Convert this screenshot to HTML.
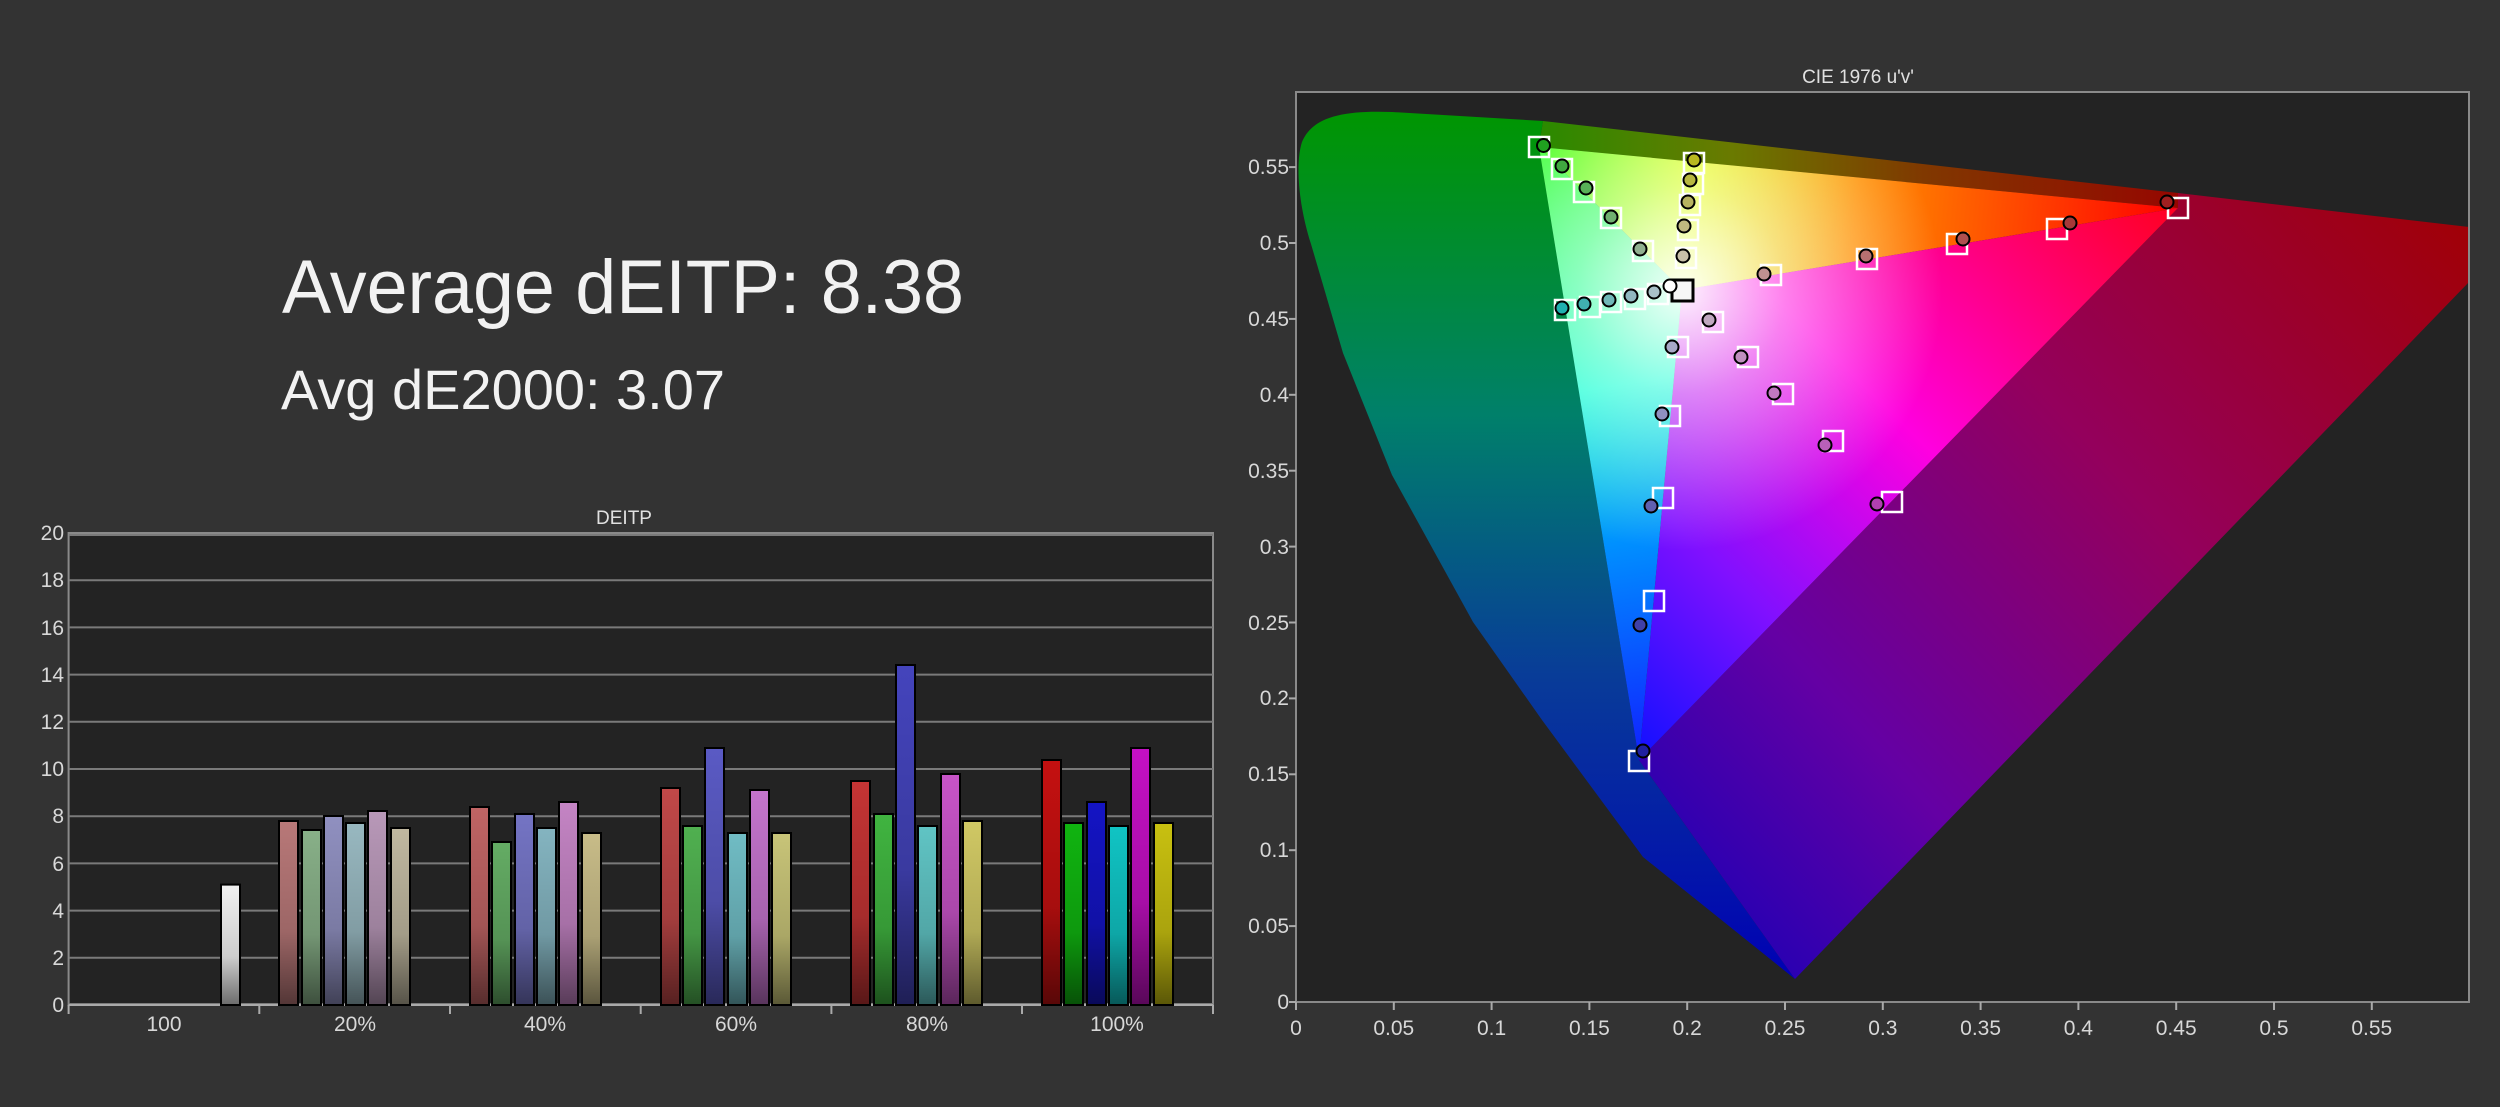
<!DOCTYPE html>
<html><head><meta charset="utf-8"><style>
html,body{margin:0;padding:0;background:#333333;}
svg{display:block}
</style></head><body>
<svg width="2500" height="1107" viewBox="0 0 2500 1107" xmlns="http://www.w3.org/2000/svg" font-family="Liberation Sans, sans-serif">
<defs>
<linearGradient id="shade" x1="0" y1="0" x2="0" y2="1">
<stop offset="0" stop-color="#000" stop-opacity="0"/>
<stop offset="0.6" stop-color="#000" stop-opacity="0.15"/>
<stop offset="1" stop-color="#000" stop-opacity="0.55"/>
</linearGradient>
<linearGradient id="gl" gradientUnits="userSpaceOnUse" x1="0" y1="110" x2="0" y2="980">
<stop offset="0" stop-color="#009600"/>
<stop offset="0.35" stop-color="#00806a"/>
<stop offset="0.65" stop-color="#083c98"/>
<stop offset="1" stop-color="#0000b4"/>
</linearGradient>
<linearGradient id="gr" gradientUnits="userSpaceOnUse" x1="2469" y1="240" x2="1700" y2="940">
<stop offset="0" stop-color="#a00008"/>
<stop offset="0.4" stop-color="#94005c"/>
<stop offset="0.75" stop-color="#6400a4"/>
<stop offset="1" stop-color="#2000b4"/>
</linearGradient>
<linearGradient id="gt" gradientUnits="userSpaceOnUse" x1="1540" y1="0" x2="2180" y2="0">
<stop offset="0" stop-color="#2a8a00"/>
<stop offset="0.3" stop-color="#6a7a00"/>
<stop offset="0.6" stop-color="#803800"/>
<stop offset="1" stop-color="#960600"/>
</linearGradient>
<linearGradient id="tGR" gradientUnits="userSpaceOnUse" x1="1539" y1="147" x2="2178" y2="208">
<stop offset="0" stop-color="#30ff10"/>
<stop offset="0.25" stop-color="#e0ff00"/>
<stop offset="0.5" stop-color="#ff9000"/>
<stop offset="1" stop-color="#ff0000"/>
</linearGradient>
<linearGradient id="tRB" gradientUnits="userSpaceOnUse" x1="2178" y1="208" x2="1639" y2="760">
<stop offset="0" stop-color="#ff0020"/>
<stop offset="0.45" stop-color="#ff00e0"/>
<stop offset="0.75" stop-color="#8010ff"/>
<stop offset="1" stop-color="#1010ff"/>
</linearGradient>
<linearGradient id="tBG" gradientUnits="userSpaceOnUse" x1="1639" y1="760" x2="1539" y2="147">
<stop offset="0" stop-color="#1020ff"/>
<stop offset="0.35" stop-color="#0090ff"/>
<stop offset="0.6" stop-color="#00ffd0"/>
<stop offset="1" stop-color="#30ff20"/>
</linearGradient>
<radialGradient id="wh" gradientUnits="userSpaceOnUse" cx="1682" cy="290" r="260">
<stop offset="0" stop-color="#fff" stop-opacity="0.95"/>
<stop offset="0.4" stop-color="#fff" stop-opacity="0.5"/>
<stop offset="1" stop-color="#fff" stop-opacity="0"/>
</radialGradient>
<clipPath id="cf"><rect x="1296" y="92" width="1173" height="910"/></clipPath>
</defs>

<rect width="2500" height="1107" fill="#333333"/>

<text x="282" y="313" font-size="76" fill="#f2f2f2" textLength="682" lengthAdjust="spacingAndGlyphs">Average dEITP: 8.38</text>
<text x="281" y="409" font-size="56" fill="#f2f2f2" textLength="444" lengthAdjust="spacingAndGlyphs">Avg dE2000: 3.07</text>

<text x="624" y="524" font-size="19" fill="#e0e0e0" text-anchor="middle">DEITP</text>
<rect x="68.6" y="533" width="1144.4" height="472" fill="#232323" stroke="#8a8a8a" stroke-width="2"/>
<g stroke="#7a7a7a" stroke-width="2">
<line x1="69" x2="1213" y1="957.8" y2="957.8"/><line x1="69" x2="1213" y1="910.6" y2="910.6"/>
<line x1="69" x2="1213" y1="863.4" y2="863.4"/><line x1="69" x2="1213" y1="816.2" y2="816.2"/>
<line x1="69" x2="1213" y1="769" y2="769"/><line x1="69" x2="1213" y1="721.8" y2="721.8"/>
<line x1="69" x2="1213" y1="674.6" y2="674.6"/><line x1="69" x2="1213" y1="627.4" y2="627.4"/>
<line x1="69" x2="1213" y1="580.2" y2="580.2"/><line x1="69" x2="1213" y1="535" y2="535"/>
<line x1="69" x2="1213" y1="1004" y2="1004"/>
</g>
<g stroke="#aaa" stroke-width="2">
<line x1="68.6" x2="1213" y1="1005" y2="1005"/>
<line x1="68.6" x2="68.6" y1="1005" y2="1014"/><line x1="259.3" x2="259.3" y1="1005" y2="1014"/>
<line x1="450" x2="450" y1="1005" y2="1014"/><line x1="640.7" x2="640.7" y1="1005" y2="1014"/>
<line x1="831.4" x2="831.4" y1="1005" y2="1014"/><line x1="1022" x2="1022" y1="1005" y2="1014"/>
<line x1="1213" x2="1213" y1="1005" y2="1014"/>
</g>
<g font-size="21" fill="#d8d8d8" text-anchor="end">
<text x="64" y="1012">0</text><text x="64" y="965">2</text><text x="64" y="918">4</text>
<text x="64" y="871">6</text><text x="64" y="823">8</text><text x="64" y="776">10</text>
<text x="64" y="729">12</text><text x="64" y="682">14</text><text x="64" y="635">16</text>
<text x="64" y="587">18</text><text x="64" y="540">20</text>
</g>
<g font-size="21" fill="#d8d8d8" text-anchor="middle">
<text x="164" y="1031">100</text><text x="355" y="1031">20%</text><text x="545" y="1031">40%</text>
<text x="736" y="1031">60%</text><text x="927" y="1031">80%</text><text x="1117" y="1031">100%</text>
</g>
<g stroke="#000" stroke-width="2">
<rect x="221" y="884.6" width="19" height="120.4" fill="#f0f0f0"/>
<rect x="279" y="821" width="19" height="184" fill="#b87878"/>
<rect x="302" y="830" width="19" height="175" fill="#88b088"/>
<rect x="324" y="816" width="19" height="189" fill="#9090c0"/>
<rect x="346" y="823" width="19" height="182" fill="#98b8c0"/>
<rect x="368" y="811" width="19" height="194" fill="#b898b8"/>
<rect x="391" y="828" width="19" height="177" fill="#c0b8a0"/>
<rect x="470" y="807" width="19" height="198" fill="#c06464"/>
<rect x="492" y="842" width="19" height="163" fill="#64ac64"/>
<rect x="515" y="814" width="19" height="191" fill="#7474c4"/>
<rect x="537" y="828" width="19" height="177" fill="#84b4c0"/>
<rect x="559" y="802" width="19" height="203" fill="#c484c4"/>
<rect x="582" y="833" width="19" height="172" fill="#c8bc88"/>
<rect x="661" y="788" width="19" height="217" fill="#c04848"/>
<rect x="683" y="826" width="19" height="179" fill="#50b050"/>
<rect x="705" y="748" width="19" height="257" fill="#5a5ac4"/>
<rect x="728" y="833" width="19" height="172" fill="#70bcc4"/>
<rect x="750" y="790" width="19" height="215" fill="#c474cc"/>
<rect x="772" y="833" width="19" height="172" fill="#c8c478"/>
<rect x="851" y="781" width="19" height="224" fill="#c43434"/>
<rect x="874" y="814" width="19" height="191" fill="#40b440"/>
<rect x="896" y="665" width="19" height="340" fill="#4444bc"/>
<rect x="918" y="826" width="19" height="179" fill="#60c4c4"/>
<rect x="941" y="774" width="19" height="231" fill="#c854c8"/>
<rect x="963" y="821" width="19" height="184" fill="#d0c864"/>
<rect x="1042" y="760" width="19" height="245" fill="#c41010"/>
<rect x="1064" y="823" width="19" height="182" fill="#10b410"/>
<rect x="1087" y="802" width="19" height="203" fill="#1414c4"/>
<rect x="1109" y="826" width="19" height="179" fill="#10c4c4"/>
<rect x="1131" y="748" width="19" height="257" fill="#c410c4"/>
<rect x="1154" y="823" width="19" height="182" fill="#c8c010"/>
</g>
<g fill="url(#shade)">
<rect x="221" y="884.6" width="19" height="120.4"/>
<rect x="279" y="821" width="19" height="184"/><rect x="302" y="830" width="19" height="175"/>
<rect x="324" y="816" width="19" height="189"/><rect x="346" y="823" width="19" height="182"/>
<rect x="368" y="811" width="19" height="194"/><rect x="391" y="828" width="19" height="177"/>
<rect x="470" y="807" width="19" height="198"/><rect x="492" y="842" width="19" height="163"/>
<rect x="515" y="814" width="19" height="191"/><rect x="537" y="828" width="19" height="177"/>
<rect x="559" y="802" width="19" height="203"/><rect x="582" y="833" width="19" height="172"/>
<rect x="661" y="788" width="19" height="217"/><rect x="683" y="826" width="19" height="179"/>
<rect x="705" y="748" width="19" height="257"/><rect x="728" y="833" width="19" height="172"/>
<rect x="750" y="790" width="19" height="215"/><rect x="772" y="833" width="19" height="172"/>
<rect x="851" y="781" width="19" height="224"/><rect x="874" y="814" width="19" height="191"/>
<rect x="896" y="665" width="19" height="340"/><rect x="918" y="826" width="19" height="179"/>
<rect x="941" y="774" width="19" height="231"/><rect x="963" y="821" width="19" height="184"/>
<rect x="1042" y="760" width="19" height="245"/><rect x="1064" y="823" width="19" height="182"/>
<rect x="1087" y="802" width="19" height="203"/><rect x="1109" y="826" width="19" height="179"/>
<rect x="1131" y="748" width="19" height="257"/><rect x="1154" y="823" width="19" height="182"/>
</g>

<text x="1858" y="83" font-size="19" fill="#e0e0e0" text-anchor="middle">CIE 1976 u'v'</text>
<rect x="1296" y="92" width="1173" height="910" fill="#232323"/>
<g clip-path="url(#cf)">
<path fill="url(#gl)" d="M1539,147 L1543,121 L1392,112 C1340,110 1312,118 1302,142 C1296,160 1297,200 1311,244 L1343,353 L1392,475 L1473,622 L1542,720 L1643,857 L1795,979 L1639,760 Z"/>
<polygon fill="url(#gr)" points="2178,208 2178,193 2469,227 2469,282 1795,979 1639,760"/>
<polygon fill="url(#gt)" points="1539,147 1543,121 2178,193 2178,208"/>
<polygon fill="url(#tGR)" points="1682,290 1539,147 2178,208"/>
<polygon fill="url(#tRB)" points="1682,290 2178,208 1639,760"/>
<polygon fill="url(#tBG)" points="1682,290 1639,760 1539,147"/>
<polygon fill="url(#wh)" points="1539,147 2178,208 1639,760"/>
</g>
<rect x="1296" y="92" width="1173" height="910" fill="none" stroke="#8a8a8a" stroke-width="2"/>
<g stroke="#aaa" stroke-width="2">
<line x1="1296" x2="1296" y1="1002" y2="1010"/><line x1="1393.8" x2="1393.8" y1="1002" y2="1010"/>
<line x1="1491.6" x2="1491.6" y1="1002" y2="1010"/><line x1="1589.4" x2="1589.4" y1="1002" y2="1010"/>
<line x1="1687.2" x2="1687.2" y1="1002" y2="1010"/><line x1="1785" x2="1785" y1="1002" y2="1010"/>
<line x1="1882.8" x2="1882.8" y1="1002" y2="1010"/><line x1="1980.6" x2="1980.6" y1="1002" y2="1010"/>
<line x1="2078.4" x2="2078.4" y1="1002" y2="1010"/><line x1="2176.2" x2="2176.2" y1="1002" y2="1010"/>
<line x1="2274" x2="2274" y1="1002" y2="1010"/><line x1="2371.8" x2="2371.8" y1="1002" y2="1010"/>
<line x1="1289" x2="1296" y1="1002" y2="1002"/><line x1="1289" x2="1296" y1="926.1" y2="926.1"/>
<line x1="1289" x2="1296" y1="850.2" y2="850.2"/><line x1="1289" x2="1296" y1="774.3" y2="774.3"/>
<line x1="1289" x2="1296" y1="698.4" y2="698.4"/><line x1="1289" x2="1296" y1="622.5" y2="622.5"/>
<line x1="1289" x2="1296" y1="546.6" y2="546.6"/><line x1="1289" x2="1296" y1="470.7" y2="470.7"/>
<line x1="1289" x2="1296" y1="394.8" y2="394.8"/><line x1="1289" x2="1296" y1="318.9" y2="318.9"/>
<line x1="1289" x2="1296" y1="243" y2="243"/><line x1="1289" x2="1296" y1="167.1" y2="167.1"/>
</g>
<g font-size="21" fill="#d8d8d8" text-anchor="end">
<text x="1289" y="1009">0</text><text x="1289" y="933">0.05</text><text x="1289" y="857">0.1</text>
<text x="1289" y="781">0.15</text><text x="1289" y="705">0.2</text><text x="1289" y="630">0.25</text>
<text x="1289" y="554">0.3</text><text x="1289" y="478">0.35</text><text x="1289" y="402">0.4</text>
<text x="1289" y="326">0.45</text><text x="1289" y="250">0.5</text><text x="1289" y="174">0.55</text>
</g>
<g font-size="21" fill="#d8d8d8" text-anchor="middle">
<text x="1296" y="1035">0</text><text x="1393.8" y="1035">0.05</text><text x="1491.6" y="1035">0.1</text>
<text x="1589.4" y="1035">0.15</text><text x="1687.2" y="1035">0.2</text><text x="1785" y="1035">0.25</text>
<text x="1882.8" y="1035">0.3</text><text x="1980.6" y="1035">0.35</text><text x="2078.4" y="1035">0.4</text>
<text x="2176.2" y="1035">0.45</text><text x="2274" y="1035">0.5</text><text x="2371.8" y="1035">0.55</text>
</g>
<g fill="none" stroke="#fff" stroke-width="2.5">
<rect x="1529" y="137" width="20" height="20"/><rect x="1552" y="159" width="20" height="20"/>
<rect x="1574" y="182" width="20" height="20"/><rect x="1601" y="208" width="20" height="20"/>
<rect x="1633" y="241" width="20" height="20"/><rect x="1555" y="300" width="20" height="20"/>
<rect x="1580" y="297" width="20" height="20"/><rect x="1601" y="292" width="20" height="20"/>
<rect x="1625" y="289" width="20" height="20"/><rect x="1648" y="284" width="20" height="20"/>
<rect x="1684" y="153" width="20" height="20"/><rect x="1683" y="174" width="20" height="20"/>
<rect x="1680" y="195" width="20" height="20"/><rect x="1678" y="220" width="20" height="20"/>
<rect x="1676" y="248" width="20" height="20"/><rect x="1761" y="265" width="20" height="20"/>
<rect x="1857" y="249" width="20" height="20"/><rect x="1947" y="234" width="20" height="20"/>
<rect x="2047" y="219" width="20" height="20"/><rect x="2168" y="198" width="20" height="20"/>
<rect x="1703" y="312" width="20" height="20"/><rect x="1738" y="347" width="20" height="20"/>
<rect x="1773" y="384" width="20" height="20"/><rect x="1823" y="431" width="20" height="20"/>
<rect x="1882" y="492" width="20" height="20"/><rect x="1668" y="337" width="20" height="20"/>
<rect x="1660" y="406" width="20" height="20"/><rect x="1653" y="488" width="20" height="20"/>
<rect x="1644" y="591" width="20" height="20"/><rect x="1629" y="751" width="20" height="20"/>
</g>
<rect x="1672" y="280" width="21" height="21" fill="#f6f6f6" stroke="#000" stroke-width="3"/>
<g stroke="#000" stroke-width="2">
<circle cx="1543.5" cy="145.5" r="6.5" fill="#20a020"/><circle cx="1562" cy="166" r="6.5" fill="#40a840"/>
<circle cx="1586" cy="188" r="6.5" fill="#58b058"/><circle cx="1611" cy="217" r="6.5" fill="#70b070"/>
<circle cx="1640" cy="249" r="6.5" fill="#90b090"/><circle cx="1562" cy="308" r="6.5" fill="#20b0b0"/>
<circle cx="1584" cy="304" r="6.5" fill="#40b0b0"/><circle cx="1609" cy="300" r="6.5" fill="#70b8b8"/>
<circle cx="1631" cy="296" r="6.5" fill="#90b8c0"/><circle cx="1654" cy="292" r="6.5" fill="#a8c0c8"/>
<circle cx="1670" cy="286" r="6.5" fill="#fff"/>
<circle cx="1694" cy="160" r="6.5" fill="#b8b820"/><circle cx="1690" cy="180" r="6.5" fill="#b8b840"/>
<circle cx="1688" cy="202" r="6.5" fill="#b8b460"/><circle cx="1684" cy="226" r="6.5" fill="#c0b880"/>
<circle cx="1683" cy="256" r="6.5" fill="#c8c0a8"/><circle cx="1764" cy="274" r="6.5" fill="#c09090"/>
<circle cx="1866" cy="256" r="6.5" fill="#b87070"/><circle cx="1963" cy="239" r="6.5" fill="#b05050"/>
<circle cx="2070" cy="223" r="6.5" fill="#a83838"/><circle cx="2167" cy="202" r="6.5" fill="#a02020"/>
<circle cx="1709" cy="320" r="6.5" fill="#c0a8c0"/><circle cx="1741" cy="357" r="6.5" fill="#c090c0"/>
<circle cx="1774" cy="393" r="6.5" fill="#c078c0"/><circle cx="1825" cy="445" r="6.5" fill="#b860b8"/>
<circle cx="1877" cy="504" r="6.5" fill="#b040b0"/><circle cx="1672" cy="347" r="6.5" fill="#a8a8c8"/>
<circle cx="1662" cy="414" r="6.5" fill="#9090c0"/><circle cx="1651" cy="506" r="6.5" fill="#6060b0"/>
<circle cx="1640" cy="625" r="6.5" fill="#4040a8"/><circle cx="1643" cy="751" r="6.5" fill="#2020a0"/>
</g>
</svg>
</body></html>
